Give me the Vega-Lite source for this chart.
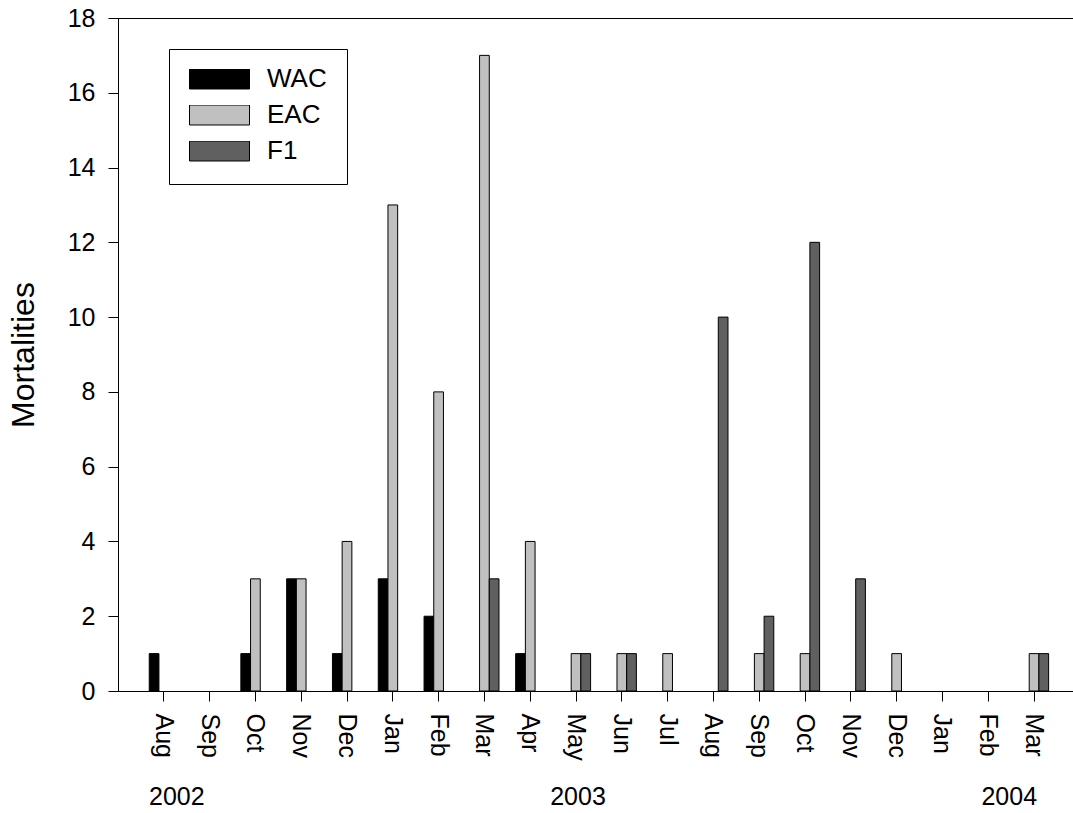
{
  "$schema": "https://vega.github.io/schema/vega-lite/v6.json",
  "autosize": {"type": "none"},
  "padding": {"left": 118, "top": 18, "right": 0, "bottom": 122},
  "width": 955,
  "height": 673,
  "config": {
    "font": "Liberation Sans",
    "view": {"stroke": "black", "strokeWidth": 1},
    "axis": {"domainColor": "black", "tickColor": "black", "labelColor": "black", "titleColor": "black", "grid": false}
  },
  "datasets": {
    "bars": [
      {"month": "Aug 2002", "group": "WAC", "value": 1},
      {"month": "Oct 2002", "group": "WAC", "value": 1},
      {"month": "Oct 2002", "group": "EAC", "value": 3},
      {"month": "Nov 2002", "group": "WAC", "value": 3},
      {"month": "Nov 2002", "group": "EAC", "value": 3},
      {"month": "Dec 2002", "group": "WAC", "value": 1},
      {"month": "Dec 2002", "group": "EAC", "value": 4},
      {"month": "Jan 2003", "group": "WAC", "value": 3},
      {"month": "Jan 2003", "group": "EAC", "value": 13},
      {"month": "Feb 2003", "group": "WAC", "value": 2},
      {"month": "Feb 2003", "group": "EAC", "value": 8},
      {"month": "Mar 2003", "group": "EAC", "value": 17},
      {"month": "Mar 2003", "group": "F1", "value": 3},
      {"month": "Apr 2003", "group": "WAC", "value": 1},
      {"month": "Apr 2003", "group": "EAC", "value": 4},
      {"month": "May 2003", "group": "EAC", "value": 1},
      {"month": "May 2003", "group": "F1", "value": 1},
      {"month": "Jun 2003", "group": "EAC", "value": 1},
      {"month": "Jun 2003", "group": "F1", "value": 1},
      {"month": "Jul 2003", "group": "EAC", "value": 1},
      {"month": "Aug 2003", "group": "F1", "value": 10},
      {"month": "Sep 2003", "group": "EAC", "value": 1},
      {"month": "Sep 2003", "group": "F1", "value": 2},
      {"month": "Oct 2003", "group": "EAC", "value": 1},
      {"month": "Oct 2003", "group": "F1", "value": 12},
      {"month": "Nov 2003", "group": "F1", "value": 3},
      {"month": "Dec 2003", "group": "EAC", "value": 1},
      {"month": "Mar 2004", "group": "EAC", "value": 1},
      {"month": "Mar 2004", "group": "F1", "value": 1}
    ]
  },
  "layer": [
    {
      "data": {"name": "bars"},
      "mark": {"type": "bar", "stroke": "black", "strokeWidth": 1},
      "encoding": {
        "x": {
          "field": "month",
          "type": "nominal",
          "sort": null,
          "scale": {
            "domain": ["Aug 2002", "Sep 2002", "Oct 2002", "Nov 2002", "Dec 2002", "Jan 2003", "Feb 2003", "Mar 2003", "Apr 2003", "May 2003", "Jun 2003", "Jul 2003", "Aug 2003", "Sep 2003", "Oct 2003", "Nov 2003", "Dec 2003", "Jan 2004", "Feb 2004", "Mar 2004"],
            "paddingInner": 0,
            "paddingOuter": 0.425,
            "align": 0.588
          },
          "axis": {
            "title": null,
            "labelAngle": 90,
            "labelAlign": "left",
            "labelBaseline": "middle",
            "labelFontSize": 25,
            "tickSize": 10,
            "labelPadding": 12,
            "labelExpr": "substring(datum.value, 0, 3)",
            "domainWidth": 1
          }
        },
        "xOffset": {
          "field": "group",
          "type": "nominal",
          "scale": {"domain": ["WAC", "EAC", "F1"], "paddingInner": 0, "paddingOuter": 0.86}
        },
        "y": {
          "field": "value",
          "type": "quantitative",
          "scale": {"domain": [0, 18], "nice": false},
          "axis": {
            "title": "Mortalities",
            "values": [0, 2, 4, 6, 8, 10, 12, 14, 16, 18],
            "labelFontSize": 25,
            "tickSize": 10,
            "labelPadding": 13,
            "titleFontSize": 32,
            "titleFontWeight": "normal",
            "titleBaseline": "alphabetic",
            "titleAlign": "center",
            "titleAngle": -90,
            "titleX": -85,
            "titleY": 336.5
          }
        },
        "color": {
          "field": "group",
          "type": "nominal",
          "scale": {"domain": ["WAC", "EAC", "F1"], "range": ["#000000", "#c0c0c0", "#606060"]},
          "legend": {
            "title": null,
            "orient": "none",
            "legendX": 51,
            "legendY": 31,
            "strokeColor": "black",
            "fillColor": "white",
            "padding": 20,
            "symbolType": "M-1,-0.3333H1V0.3333H-1Z",
            "symbolSize": 3600,
            "symbolStrokeColor": "black",
            "symbolStrokeWidth": 1,
            "symbolOpacity": 1,
            "clipHeight": 20,
            "labelFontSize": 26,
            "labelOffset": 17,
            "rowPadding": 10
          }
        }
      }
    },
    {
      "data": {"values": [{"month": "Aug 2002", "year": "2002"}]},
      "mark": {"type": "text", "fontSize": 25, "baseline": "alphabetic", "align": "center", "dx": 13, "dy": 114, "color": "black"},
      "encoding": {
        "x": {"field": "month", "type": "nominal"},
        "y": {"datum": 0},
        "text": {"field": "year"}
      }
    },
    {
      "data": {"values": [{"month": "May 2003", "year": "2003"}]},
      "mark": {"type": "text", "fontSize": 25, "baseline": "alphabetic", "align": "center", "dx": 2, "dy": 114, "color": "black"},
      "encoding": {
        "x": {"field": "month", "type": "nominal"},
        "y": {"datum": 0},
        "text": {"field": "year"}
      }
    },
    {
      "data": {"values": [{"month": "Feb 2004", "year": "2004"}]},
      "mark": {"type": "text", "fontSize": 25, "baseline": "alphabetic", "align": "center", "dx": 21, "dy": 114, "color": "black"},
      "encoding": {
        "x": {"field": "month", "type": "nominal"},
        "y": {"datum": 0},
        "text": {"field": "year"}
      }
    }
  ]
}
